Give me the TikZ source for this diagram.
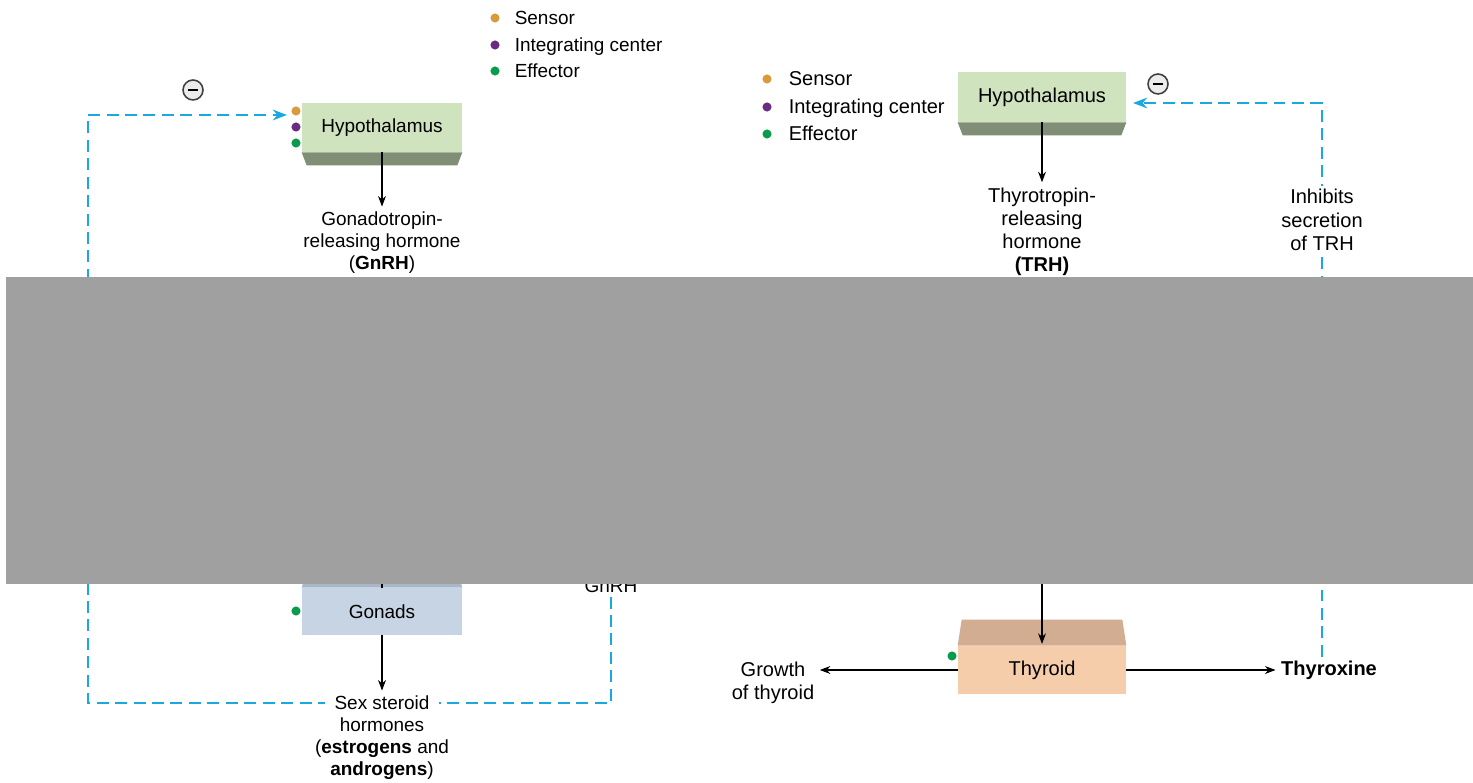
\documentclass[tikz,border=0pt]{standalone}
\usepackage{fontspec}
\setmainfont{Liberation Sans}
\usetikzlibrary{arrows.meta,calc,positioning}
\definecolor{hypgreen}{HTML}{CFE3BF}
\definecolor{hypshade}{HTML}{7F8E74}
\definecolor{gonblue}{HTML}{C6D4E3}
\definecolor{gonshade}{HTML}{A9B8C9}
\definecolor{thylight}{HTML}{F6CDAB}
\definecolor{thyshade}{HTML}{D2AD92}
\definecolor{fbblue}{HTML}{1BA7DF}
\definecolor{sensorc}{HTML}{D99A3E}
\definecolor{integc}{HTML}{6A2C83}
\definecolor{effectc}{HTML}{0B9B4C}
\definecolor{maskgray}{HTML}{A0A0A0}
\newcommand{\lfont}{\fontsize{10.8}{12.5}\selectfont}
\newcommand{\rfont}{\fontsize{11.4}{13.2}\selectfont}

\begin{document}
\begin{tikzpicture}[x=0.02cm,y=-0.02cm,
  organ/.style={fill=#1,inner sep=0pt},
  hormone/.style={align=center,inner sep=2pt,fill=white},
  legend/.style={anchor=west,inner sep=0pt,text height=1.55ex,text depth=0.25ex},
  dot/.style={circle,fill=#1,inner sep=0pt,minimum size=5.2pt},
  signal/.style={-{Stealth[length=6pt,width=4.5pt]},line width=0.6pt,shorten >=1pt},
  feedback/.style={fbblue,line width=1.5pt,dash pattern=on 6.8pt off 3.7pt,
    -{Stealth[length=8pt,width=6pt,inset=2.5pt]}},
  negsign/.style={circle,draw=black!75,fill=gray!15,line width=0.9pt,
    minimum size=0.4cm,inner sep=0pt}]
  \useasboundingbox (0,0) rectangle (1473,783);

  % left loop
  \node[dot=sensorc] (senLdot) at (495,18) {};
  \node[dot=integc] (intLdot) at (495,45) {};
  \node[dot=effectc] (effLdot) at (495,71) {};
  \node[legend,font=\lfont,right=0.29cm of senLdot] (senL) {Sensor};
  \node[legend,font=\lfont,right=0.29cm of intLdot] (intL) {Integrating center};
  \node[legend,font=\lfont,right=0.29cm of effLdot] (effL) {Effector};

  \node[organ=hypgreen,minimum width=3.2cm,minimum height=0.98cm,font=\lfont] (hypL) at (382,127.5) {Hypothalamus};
  \fill[hypshade] (hypL.south west) -- (hypL.south east) -- ++(-5,13) -- ($(hypL.south west)+(5,13)$) -- cycle;
  \node[dot=sensorc] at (296,111) {};
  \node[dot=integc] at (296,127) {};
  \node[dot=effectc] at (296,143) {};

  \node[organ=gonblue,minimum width=3.2cm,minimum height=0.94cm,font=\lfont] (gonads) at (382,611.5) {Gonads};
  \fill[gonshade] (gonads.north west) -- (gonads.north east) -- ++(-4,-14) -- ($(gonads.north west)+(4,-14)$) -- cycle;
  \node[dot=effectc] at (296,611) {};
  \coordinate (gonIn) at (382,560);
  \draw[line width=0.6pt] (gonIn) -- (gonads.north);

  \node[font=\lfont,inner sep=2pt] (gnrhNote) at (611,586) {GnRH};
  \coordinate (fbLcorner) at (88,703);
  \coordinate (fbLin) at (287,115);
  \draw[feedback] (gnrhNote.south) |- (fbLcorner) |- (fbLin);
  \node[negsign] (negL) at (193,90) {\rule[-0.65pt]{5.5pt}{1.3pt}};

  \node[hormone,font=\lfont] (gnrh) at (382,243) {Gonadotropin-\\releasing hormone\\(\textbf{GnRH})};
  \fill[white] (325,696) rectangle (439,713);
  \node[align=center,inner sep=2pt,font=\lfont] (steroids) at (382,738) {Sex steroid\\hormones\\(\textbf{estrogens} and\\\textbf{androgens})};
  \draw[signal] (hypL.south) -- (gnrh.north);
  \draw[signal] (gonads.south) -- (steroids.north);

  % right loop
  \node[dot=sensorc] (senRdot) at (767,79) {};
  \node[dot=integc] (intRdot) at (767,107) {};
  \node[dot=effectc] (effRdot) at (767,134) {};
  \node[legend,font=\rfont,right=0.33cm of senRdot] (senR) {Sensor};
  \node[legend,font=\rfont,right=0.33cm of intRdot] (intR) {Integrating center};
  \node[legend,font=\rfont,right=0.33cm of effRdot] (effR) {Effector};

  \node[organ=hypgreen,minimum width=3.36cm,minimum height=1cm,font=\rfont] (hypR) at (1042,97) {Hypothalamus};
  \fill[hypshade] (hypR.south west) -- (hypR.south east) -- ++(-5,13) -- ($(hypR.south west)+(5,13)$) -- cycle;

  \node[organ=thylight,minimum width=3.36cm,minimum height=0.96cm,font=\rfont] (thyroid) at (1042,670) {Thyroid};
  \fill[thyshade] (thyroid.north west) -- (thyroid.north east) -- ++(-4,-26) -- ($(thyroid.north west)+(4,-26)$) -- cycle;
  \node[dot=effectc] at (952,656) {};
  \coordinate (thyIn) at (1042,560);
  \draw[signal] (thyIn) -- (thyroid.north);

  \node[font=\rfont,inner sep=2pt] (thyroxine) at (1329,670) {\textbf{Thyroxine}};
  \node[align=center,font=\rfont,inner sep=2pt] (growth) at (773,683) {Growth\\of thyroid};
  \draw[signal] (thyroid.west) -- (thyroid.west -| growth.east);
  \draw[signal] (thyroid.east) -- (thyroxine.west);

  \coordinate (fbRin) at (1133,103);
  \draw[feedback] (thyroxine.north -| 1322,0) |- (fbRin);
  \node[negsign] (negR) at (1158,84) {\rule[-0.65pt]{5.5pt}{1.3pt}};

  \node[hormone,font=\rfont] (trh) at (1042,232) {Thyrotropin-\\releasing\\hormone\\\textbf{(TRH)}};
  \node[hormone,font=\rfont] (inhibTRH) at (1322,220) {Inhibits\\secretion\\of TRH};
  \draw[signal] (hypR.south) -- (trh.north);

  % hidden part
  \fill[maskgray] (6,277) rectangle (1473,584);
\end{tikzpicture}
\end{document}
